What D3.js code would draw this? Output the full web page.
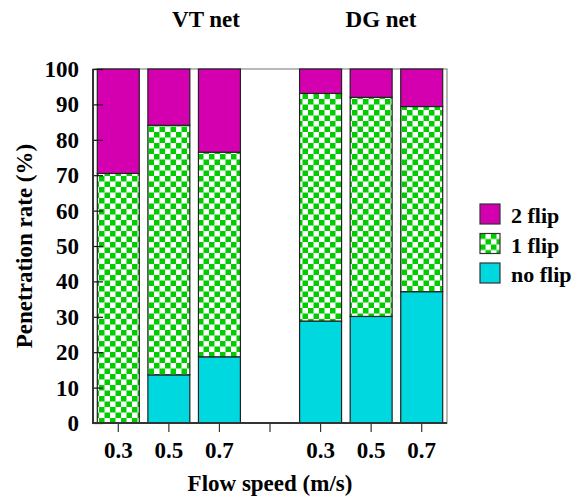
<!DOCTYPE html>
<html>
<head>
<meta charset="utf-8">
<script src="https://cdn.jsdelivr.net/npm/d3@7"></script>
<style>
  body { margin: 0; background: #fff; }
  text { font-family: "Liberation Serif", "Times New Roman", serif; font-weight: bold; fill: #000; }
</style>
</head>
<body>
<svg id="chart" width="579" height="500"></svg>
<script>
// slots along x; the empty one is the gap between the two nets
const slots = ['VT 0.3', 'VT 0.5', 'VT 0.7', 'gap', 'DG 0.3', 'DG 0.5', 'DG 0.7'];
const categories = ['VT 0.3', 'VT 0.5', 'VT 0.7', 'DG 0.3', 'DG 0.5', 'DG 0.7'];
const tickLabels = ['0.3', '0.5', '0.7', '', '0.3', '0.5', '0.7'];
const noFlip = [0, 13.6, 18.7, 28.8, 30.1, 37.1];
const oneFlip = [70.5, 70.5, 57.8, 64.3, 61.9, 52.3];
const twoFlip = [29.5, 15.9, 23.5, 6.9, 8.0, 10.6];
const yTicks = [0, 10, 20, 30, 40, 50, 60, 70, 80, 90, 100];
const seriesNames = ['no flip', '1 flip', '2 flip'];
const groupTitles = ['VT net', 'DG net'];

const svg = d3.select('#chart');
const plotL = 93, plotR = 447, plotT = 69, plotB = 423;
const fs = '23px';

const x = d3.scaleBand().domain(slots).range([plotL, plotR]).paddingInner(0.17).paddingOuter(0.085);
const y = d3.scaleLinear().domain([0, 100]).range([plotB, plotT]);

// checker pattern for "1 flip"
const defs = svg.append('defs');
const pat = defs.append('pattern')
  .attr('id', 'checker')
  .attr('patternUnits', 'userSpaceOnUse')
  .attr('width', 11).attr('height', 11);
pat.append('rect').attr('width', 11).attr('height', 11).attr('fill', '#fff');
pat.append('rect').attr('width', 5.5).attr('height', 5.5).attr('fill', '#00cc00');
pat.append('rect').attr('x', 5.5).attr('y', 5.5).attr('width', 5.5).attr('height', 5.5).attr('fill', '#00cc00');

const colors = { 'no flip': '#00d8e0', '1 flip': 'url(#checker)', '2 flip': '#d400b0' };

const table = categories.map((c, i) => ({ cat: c, 'no flip': noFlip[i], '1 flip': oneFlip[i], '2 flip': twoFlip[i] }));
const stacked = d3.stack().keys(seriesNames)(table);

// frame (top and right in grey)
svg.append('rect')
  .attr('x', plotL).attr('y', plotT)
  .attr('width', plotR - plotL).attr('height', plotB - plotT)
  .attr('fill', 'none').attr('stroke', '#8a8a8a').attr('stroke-width', 1.2);

svg.append('g')
  .selectAll('g')
  .data(stacked)
  .join('g')
  .attr('fill', d => colors[d.key])
  .selectAll('rect')
  .data(d => d)
  .join('rect')
  .attr('x', d => x(d.data.cat))
  .attr('y', d => y(d[1]))
  .attr('width', x.bandwidth())
  .attr('height', d => y(d[0]) - y(d[1]))
  .attr('stroke', '#222')
  .attr('stroke-width', 1.2);

// y axis, ticks pointing inward
const yAxis = svg.append('g')
  .attr('transform', `translate(${plotL},0)`)
  .call(d3.axisRight(y).tickValues(yTicks).tickSize(10).tickFormat(''));
yAxis.select('.domain').remove();
yAxis.selectAll('line').attr('stroke', '#111').attr('stroke-width', 1.2);
svg.append('g')
  .selectAll('text')
  .data(yTicks)
  .join('text')
  .attr('x', plotL - 14)
  .attr('y', d => y(d) + 8)
  .attr('text-anchor', 'end')
  .style('font-size', fs)
  .text(d => d);

// x axis
const xAxis = svg.append('g')
  .attr('transform', `translate(0,${plotB})`)
  .call(d3.axisBottom(x).tickSize(9).tickFormat((d, i) => tickLabels[i]));
xAxis.select('.domain').remove();
xAxis.selectAll('line').attr('stroke', '#333').attr('stroke-width', 1.2);
xAxis.selectAll('text')
  .attr('dy', 0).attr('y', 35)
  .style('font-size', fs)
  .style('font-family', '"Liberation Serif", serif')
  .style('font-weight', 'bold')
  .attr('fill', '#000');

svg.append('line')
  .attr('x1', plotL).attr('x2', plotL).attr('y1', plotT).attr('y2', plotB + 1)
  .attr('stroke', '#333').attr('stroke-width', 2);
svg.append('line')
  .attr('x1', plotL - 1).attr('x2', plotR).attr('y1', plotB).attr('y2', plotB)
  .attr('stroke', '#333').attr('stroke-width', 2);

// axis titles
svg.append('text')
  .attr('x', (plotL + plotR) / 2).attr('y', 491)
  .attr('text-anchor', 'middle')
  .style('font-size', fs)
  .text('Flow speed (m/s)');
svg.append('text')
  .attr('transform', 'translate(32,246) rotate(-90)')
  .attr('text-anchor', 'middle')
  .style('font-size', fs)
  .text('Penetration rate (%)');

// group titles
svg.append('g')
  .selectAll('text')
  .data(groupTitles)
  .join('text')
  .attr('x', (d, i) => [206, 381][i])
  .attr('y', 27)
  .attr('text-anchor', 'middle')
  .style('font-size', fs)
  .text(d => d);

// legend
const legendKeys = ['2 flip', '1 flip', 'no flip'];
const legend = svg.append('g')
  .selectAll('g')
  .data(legendKeys)
  .join('g')
  .attr('transform', (d, i) => `translate(480,${204 + i * 29.5})`);
legend.append('rect')
  .attr('width', 20).attr('height', 20)
  .attr('fill', d => colors[d])
  .attr('stroke', '#333').attr('stroke-width', 1.2);
legend.append('text')
  .attr('x', 31).attr('y', 19)
  .style('font-size', '22px')
  .text(d => d);
</script>
</body>
</html>
